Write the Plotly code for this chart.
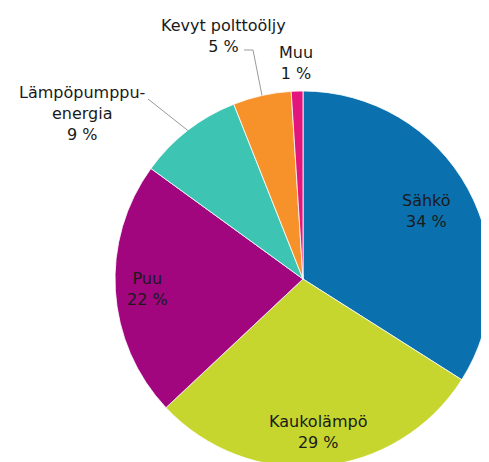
import math
import plotly.graph_objects as go

# ---- data ----
categories = ["Sähkö", "Kaukolämpö", "Puu", "Lämpöpumppuenergia", "Kevyt polttoöljy", "Muu"]
label_text = ["Sähkö", "Kaukolämpö", "Puu", "Lämpöpumppu-<br>energia", "Kevyt polttoöljy", "Muu"]
values = [34, 29, 22, 9, 5, 1]
colors = ["#0b71ae", "#c6d62f", "#a1067f", "#3ec4b3", "#f7922b", "#e2167c"]

# ---- layout (pixels, in screen coordinates) ----
W, H = 489, 462
OFF = 8  # page body margin
CX, CY, R = 303, 279, 188
FONT = dict(family="DejaVu Sans, Arial, sans-serif", size=16, color="#1a1a1a")

# inside labels: radius fraction along slice mid-angle; outside labels: explicit pixel centers
inside_frac = {0: 0.75, 1: 0.82, 2: 0.83}
outside_pos = {3: (82, 113), 4: (223, 36), 5: (296, 63)}

def px(x):
    return (x - OFF) / W

def py(y):
    return 1 - (y - OFF) / H

fig = go.Figure(go.Pie(
    labels=categories, values=values, sort=False, direction="clockwise", rotation=0,
    marker=dict(colors=colors, line=dict(color="white", width=0.8)),
    textinfo="none", hoverinfo="label+percent", showlegend=False,
    domain=dict(x=[px(CX - R), px(CX + R)], y=[py(CY + R), py(CY - R)]),
))

total = sum(values)
cum = 0
annotations = []
shapes = []
for i, v in enumerate(values):
    mid = (cum + v / 2) / total * 2 * math.pi
    cum += v
    txt = f"{label_text[i]}<br>{v} %"
    if i in inside_frac:
        r = R * inside_frac[i]
        lx = CX + r * math.sin(mid)
        ly = CY - r * math.cos(mid)
    else:
        lx, ly = outside_pos[i]
    annotations.append(dict(x=px(lx), y=py(ly), xref="paper", yref="paper", text=txt,
                            showarrow=False, font=FONT, align="center",
                            xanchor="center", yanchor="middle"))
    # leader lines
    ex = CX + R * math.sin(mid)
    ey = CY - R * math.cos(mid)
    if i == 3:
        pts = [(148, 99), (ex, ey)]
    elif i == 4:
        pts = [(244, 50), (253, 50), (ex, ey)]
    else:
        pts = []
    for (x0, y0), (x1, y1) in zip(pts[:-1], pts[1:]):
        shapes.append(dict(type="line", xref="paper", yref="paper",
                           x0=px(x0), y0=py(y0), x1=px(x1), y1=py(y1),
                           line=dict(color="#9a9a9a", width=1)))

fig.update_layout(
    width=W, height=H, margin=dict(l=0, r=0, t=0, b=0),
    paper_bgcolor="white", plot_bgcolor="white",
    annotations=annotations, shapes=shapes,
)

fig.write_html("out.html")
